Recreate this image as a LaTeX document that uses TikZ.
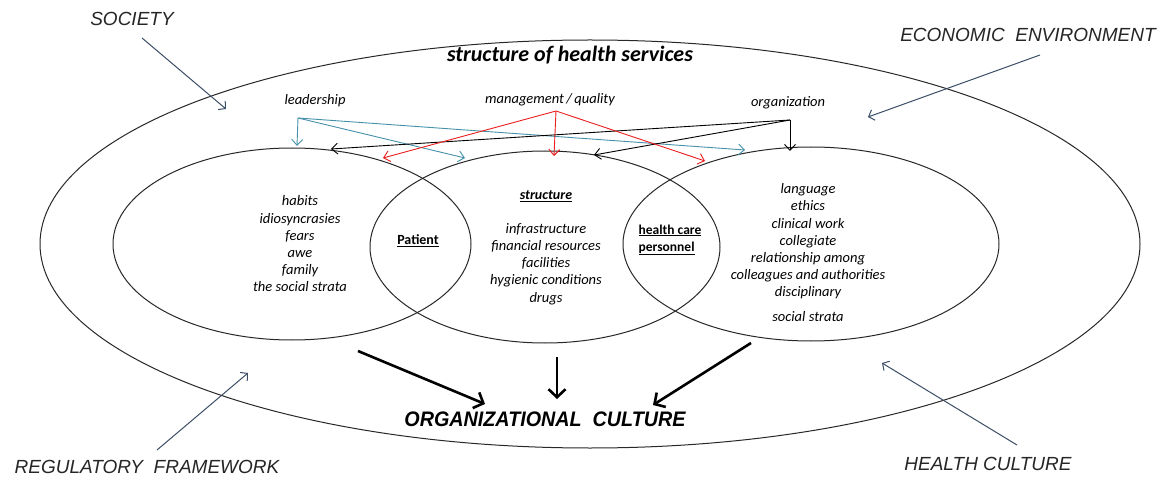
\documentclass[tikz,border=0pt]{standalone}
\usepackage{fontspec}
\setmainfont{Carlito}
\newfontfamily\arialf{Liberation Sans}
\usetikzlibrary{arrows.meta,shapes.geometric}
\definecolor{tealc}{RGB}{70,145,170}
\definecolor{redc}{RGB}{235,30,30}
\definecolor{slatec}{RGB}{60,78,102}
\definecolor{linec}{RGB}{40,40,40}
\begin{document}
\begin{tikzpicture}[x=1pt,y=-1pt,
  ell/.style={ellipse,draw=linec,line width=1pt,inner sep=0pt},
  corner/.style={font=\arialf\itshape\fontsize{19}{22}\selectfont,text=black!85},
  small/.style={font=\itshape\fontsize{14.5}{17.2}\selectfont,align=center,text=black},
  thin/.style={line width=0.9pt,-{Straight Barb[length=6pt,width=11pt]}},
  cornerarr/.style={draw=slatec,line width=1pt,-{Straight Barb[length=5pt,width=11pt]}},
  bigarr/.style={line width=2.6pt,-{Straight Barb[length=8pt,width=17pt]}}]
\useasboundingbox (0,0) rectangle (1165,481);
\fill[white] (0,0) rectangle (1165,481);
% ellipses
\node[ell,minimum width=1100pt,minimum height=408pt] (outer) at (590,244) {};
\node[ell,minimum width=358pt,minimum height=192pt] (left) at (292,244) {};
\node[ell,minimum width=350pt,minimum height=192pt] (mid) at (545,247) {};
\node[ell,minimum width=376pt,minimum height=194pt] (right) at (811,244) {};
% title
\node[font=\bfseries\itshape\fontsize{22}{25}\selectfont] (title) at (570,55) {structure of health services};
% top labels
\node[small] (lead) at (315,101) {leadership};
\node[small] (mgmt) at (550,100) {management\,/\,quality};
\node[small] (org) at (788,103) {organization};
% origins & ends
\coordinate (lo) at (298,118);
\coordinate (lt1) at (297,146);
\coordinate (lt2) at (465,158);
\coordinate (lt3) at (745,150);
\coordinate (mo) at (556,111);
\coordinate (mt1) at (383,158);
\coordinate (mt2) at (554,156);
\coordinate (mt3) at (705,161);
\coordinate (oo) at (790,120);
\coordinate (ot1) at (790,151);
\coordinate (ot2) at (331,149);
\coordinate (ot3) at (594,155);
\draw[thin,tealc] (lo) -- (lt1);
\draw[thin,tealc] (lo) -- (lt2);
\draw[thin,tealc] (lo) -- (lt3);
\draw[thin,black] (oo) -- (ot1);
\draw[thin,black] (oo) -- (ot2);
\draw[thin,black] (oo) -- (ot3);
\draw[thin,redc] (mo) -- (mt1);
\draw[thin,redc] (mo) -- (mt2);
\draw[thin,redc] (mo) -- (mt3);
% lists
\node[small] (leftlist) at (300,244) {habits\\idiosyncrasies\\fears\\awe\\family\\the social strata};
\node[font=\bfseries\fontsize{14}{15}\selectfont] (patient) at (418,241) {\underline{Patient}};
\node[font=\bfseries\itshape\fontsize{14}{15}\selectfont] (struct) at (546,196) {\underline{structure}};
\node[small] (midlist) at (546,264) {infrastructure\\financial resources\\facilities\\hygienic conditions\\drugs};
\node[font=\bfseries\fontsize{13.5}{17}\selectfont,align=left] (hcp) at (670,240) {\underline{health care}\\\underline{personnel}};
\node[small] (rightlist) at (808,241.5) {language\\ethics\\clinical work\\collegiate\\relationship among\\colleagues and authorities\\disciplinary};
\node[small] (strata) at (808,317) {social strata};
% bottom
\node[font=\arialf\bfseries\itshape\fontsize{21}{24}\selectfont] (oc) at (545,419) {\scalebox{0.94}[1]{ORGANIZATIONAL\ \ CULTURE}};
\coordinate (b1s) at (358,351);
\coordinate (b1e) at (485,404);
\coordinate (b2s) at (557,357);
\coordinate (b2e) at (557,399);
\coordinate (b3s) at (751,343);
\coordinate (b3e) at (653,405);
\draw[bigarr] (b1s) -- (b1e);
\draw[bigarr] (b2s) -- (b2e);
\draw[bigarr] (b3s) -- (b3e);
% corner labels
\node[corner] (soc) at (132,19) {SOCIETY};
\node[corner] (eco) at (1028,35) {ECONOMIC\ \ ENVIRONMENT};
\node[corner] (reg) at (147,467) {REGULATORY\ \ FRAMEWORK};
\node[corner] (hc) at (988,464) {HEALTH CULTURE};
\coordinate (sa) at (142,38);
\coordinate (sb) at (226,109);
\coordinate (ea) at (1040,55);
\coordinate (eb) at (868,117);
\coordinate (ra) at (157,450);
\coordinate (rb) at (248,373);
\coordinate (ha) at (1017,445);
\coordinate (hb) at (882,363);
\draw[cornerarr] (sa) -- (sb);
\draw[cornerarr] (ea) -- (eb);
\draw[cornerarr] (ra) -- (rb);
\draw[cornerarr] (ha) -- (hb);
\end{tikzpicture}
\end{document}
